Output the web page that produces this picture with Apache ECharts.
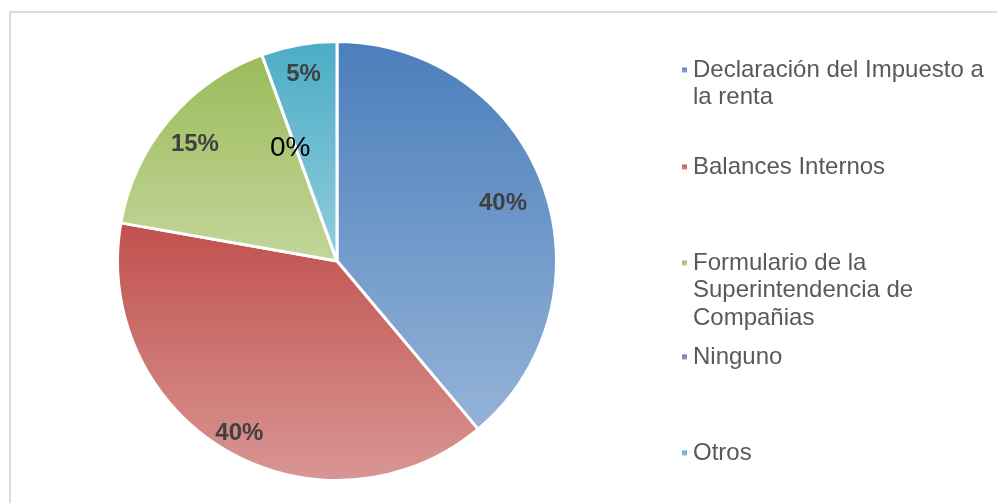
<!DOCTYPE html>
<html>
<head>
<meta charset="utf-8">
<script src="https://cdn.jsdelivr.net/npm/echarts@6/dist/echarts.min.js"></script>
<style>
  html, body { margin: 0; padding: 0; background: #fff; }
  #chart { width: 997px; height: 503px; }
</style>
</head>
<body>
<div id="chart"></div>
<script>
// categorias, tamaño de cada porcion y texto de las etiquetas
var categorias = ["Declaración del Impuesto a la renta", "Balances Internos",
    "Formulario de la Superintendencia de Compañias", "Ninguno", "Otros"];
var etiquetasLeyenda = ["Declaración del Impuesto a\nla renta", "Balances Internos",
    "Formulario de la\nSuperintendencia de\nCompañias", "Ninguno", "Otros"];
var valores = [14, 14, 6, 0, 2];
var etiquetas = ["40%", "40%", "15%", "0%", "5%"];
// colores: arriba (oscuro) y abajo (claro)
var coloresArriba = ["#4A7EBB", "#C0504D", "#9BBB59", "#8064A2", "#4BACC6"];
var coloresAbajo  = ["#95B3D7", "#D99694", "#C3D69B", "#B3A2C7", "#93CDDD"];

var chart = echarts.init(document.getElementById('chart'));

var cx = 337, cy = 261, radio = 219.5;
var lineH = 27.5;
var leyendaTop = [70, 167, 263, 357, 453];
// distancia de la etiqueta al centro (fraccion del radio)
var radioEtiqueta = [0.805, 0.89, 0.845, 0.569, 0.879];

function degradado(i) {
    return new echarts.graphic.LinearGradient(0, 0, 0, 1, [
        { offset: 0, color: coloresArriba[i] },
        { offset: 1, color: coloresAbajo[i] }
    ]);
}

// angulo medio de cada porcion (desde arriba, sentido horario)
var total = valores.reduce(function (a, b) { return a + b; }, 0);
var angMedio = [];
var acum = 0;
for (var n = 0; n < valores.length; n++) {
    angMedio.push((acum + valores[n] / 2) / total * 2 * Math.PI);
    acum += valores[n];
}

var datos = [];
for (var i = 0; i < categorias.length; i++) {
    var d = {
        name: categorias[i],
        value: valores[i],
        itemStyle: { color: degradado(i) }
    };
    if (valores[i] === 0) {
        d.label = { fontWeight: 'normal', fontSize: 28, color: '#000' };
    }
    datos.push(d);
}

// una leyenda por elemento, para repartirlas como en el original
// (lineas vacias arriba para que el cuadrito quede en la primera linea)
var leyendas = [];
for (var j = 0; j < categorias.length; j++) {
    var lineas = etiquetasLeyenda[j].split("\n").length;
    var relleno = new Array(lineas).join("\n");
    leyendas.push({
        orient: 'vertical',
        left: 680,
        top: leyendaTop[j] - (2 * lineas - 1) * lineH / 2,
        padding: 0,
        itemWidth: 7,
        itemHeight: 7,
        icon: 'rect',
        selectedMode: false,
        data: [{ name: categorias[j], itemStyle: { color: degradado(j) } }],
        formatter: (function (txt) { return function () { return txt; }; })(relleno + etiquetasLeyenda[j]),
        textStyle: {
            fontFamily: 'Liberation Sans, Arial, sans-serif',
            fontSize: 24,
            color: '#595959',
            lineHeight: lineH
        }
    });
}

var option = {
    animation: false,
    backgroundColor: '#fff',
    graphic: [{
        type: 'rect',
        silent: true,
        shape: { x: 10, y: 12, width: 1000, height: 600 },
        style: { fill: 'none', stroke: '#dcdcdc', lineWidth: 2 }
    }],
    legend: leyendas,
    series: [{
        type: 'pie',
        center: [cx, cy],
        radius: radio,
        startAngle: 90,
        clockwise: true,
        itemStyle: { borderColor: '#fff', borderWidth: 3 },
        label: {
            show: true,
            position: 'inside',
            formatter: function (p) { return etiquetas[p.dataIndex]; },
            fontFamily: 'Liberation Sans, Arial, sans-serif',
            fontSize: 24,
            fontWeight: 'bold',
            color: '#404040'
        },
        labelLayout: function (params) {
            var idx = params.dataIndex;
            var r = radioEtiqueta[idx] * radio;
            var a = angMedio[idx];
            if (valores[idx] === 0) a -= 2 * Math.PI / 180;
            // +3: el texto queda centrado en la caja, no en los digitos
            return {
                x: cx + r * Math.sin(a),
                y: cy - r * Math.cos(a) + 3,
                align: 'center',
                verticalAlign: 'middle'
            };
        },
        data: datos
    }]
};

chart.setOption(option);
</script>
</body>
</html>
